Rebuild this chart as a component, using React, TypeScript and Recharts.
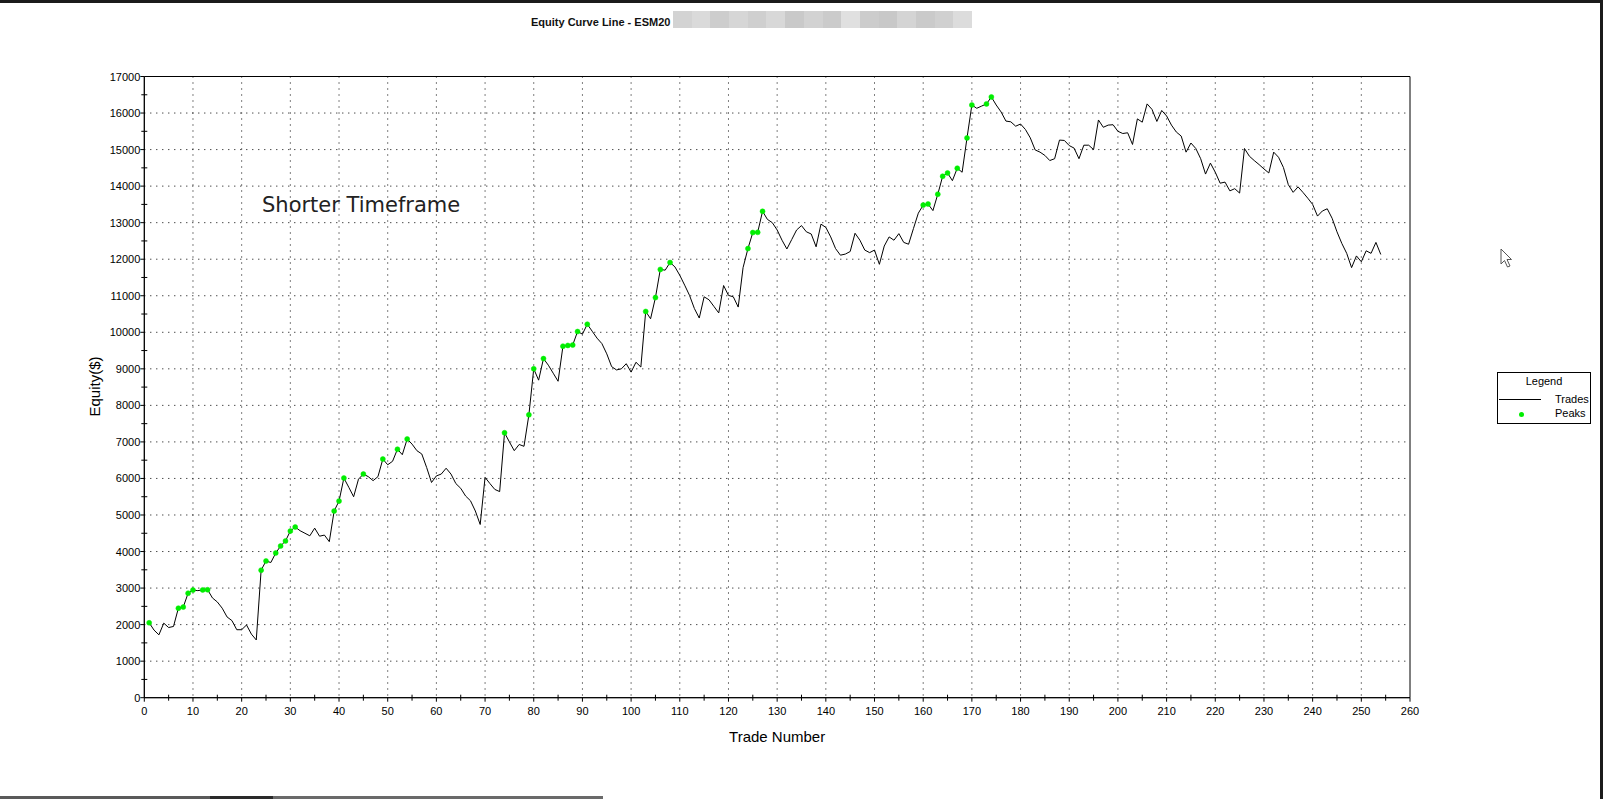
import {
  LineChart,
  Line,
  XAxis,
  YAxis,
  CartesianGrid,
  Legend,
  ReferenceArea,
} from "recharts";

// equity after each trade (trade 1..254)
const equity = [
  2050, 1850, 1720, 2040, 1920, 1950, 2450, 2480, 2860, 2945,
  2930, 2950, 2955, 2730, 2620, 2450, 2210, 2110, 1860, 1860,
  1990, 1740, 1580, 3490, 3740, 3700, 3960, 4150, 4290, 4560,
  4670, 4570, 4500, 4430, 4640, 4420, 4450, 4270, 5110, 5380,
  6010, 5760, 5500, 5980, 6120, 6050, 5940, 6050, 6530, 6375,
  6470, 6800, 6650, 7080, 6940, 6760, 6670, 6300, 5890, 6070,
  6120, 6280, 6120, 5860, 5730, 5520, 5390, 5110, 4740, 6030,
  5860, 5700, 5640, 7250, 7000, 6760, 6930, 6880, 7740, 9000,
  8690, 9280, 9100, 8880, 8660, 9620, 9640, 9650, 10020, 9950,
  10220, 10030, 9840, 9690, 9410, 9060, 8970, 9000, 9140, 8910,
  9180, 9050, 10570, 10370, 10950, 11720, 11700, 11910, 11790, 11560,
  11290, 11010, 10650, 10390, 10970, 10890, 10710, 10530, 11280, 11010,
  10970, 10690, 11770, 12290, 12730, 12735, 13310, 13090, 13000, 12800,
  12520, 12280, 12540, 12800, 12920, 12750, 12690, 12340, 12960, 12870,
  12610, 12290, 12110, 12140, 12210, 12710, 12520, 12250, 12180, 12250,
  11860, 12360, 12610, 12520, 12700, 12460, 12410, 12840, 13260, 13480,
  13510, 13330, 13780, 14270, 14360, 14150, 14490, 14380, 15320, 16220,
  16130, 16190, 16250, 16440, 16220, 16030, 15780, 15760, 15640, 15700,
  15550, 15320, 14990, 14930, 14840, 14700, 14750, 15260, 15250, 15110,
  15040, 14750, 15120, 15120, 15000, 15810, 15610, 15670, 15680, 15500,
  15440, 15460, 15140, 15840, 15750, 16250, 16100, 15770, 16070, 15920,
  15670, 15480, 15370, 14930, 15180, 15030, 14750, 14330, 14630, 14380,
  14080, 14110, 13870, 13930, 13810, 15030, 14820, 14700, 14590, 14470,
  14360, 14930, 14790, 14510, 14040, 13830, 13980, 13830, 13670, 13500,
  13180, 13320, 13380, 13120, 12750, 12430, 12160, 11770, 12090, 11930,
  12230, 12160, 12460, 12130,
];

// trades that set a new equity high (green dots)
const peakTrades = [
  1, 7, 8, 9, 10, 12, 13, 24, 25, 27, 28, 29, 30, 31, 39, 40, 41, 45, 49, 52,
  54, 74, 79, 80, 82, 86, 87, 88, 89, 91, 103, 105, 106, 108, 124, 125, 126,
  127, 160, 161, 163, 164, 165, 167, 169, 170, 173, 174,
];

const xTicks = Array.from({ length: 53 }, (_, i) => i * 5); // 0..260, labels every 10
const yTicks = Array.from({ length: 35 }, (_, i) => i * 500); // 0..17000, labels every 1000
const xGrid = Array.from({ length: 25 }, (_, i) => (i + 1) * 10);
const yGrid = Array.from({ length: 16 }, (_, i) => (i + 1) * 1000);

const titleBlur = [
  "#d3d3d3", "#dadada", "#cdcdcd", "#d6d6d6", "#cfcfcf", "#d8d8d8",
  "#c9c9c9", "#d2d2d2", "#cbcbcb", "#e0e0e0", "#cccccc", "#c8c8c8",
  "#d4d4d4", "#cacaca", "#d0d0d0", "#dcdcdc",
];

const data = equity.map((v, i) => ({
  trade: i + 1,
  equity: v,
  peak: peakTrades.includes(i + 1) ? v : null,
}));

const W = 1603;
const H = 799;
const PLOT_L = 144.3;
const PLOT_R = 1410;
const PLOT_T = 76.5;
const PLOT_B = 697.7;
const FONT = "'Liberation Sans', Arial, sans-serif";
const GREEN = "#00ee00";

function YTick({ x, y, payload }: any) {
  const major = payload.value % 1000 === 0;
  if (!major) {
    return <line x1={x - 3} x2={x + 3} y1={y} y2={y} stroke="#000" />;
  }
  return (
    <g>
      <line x1={x - 4} x2={x} y1={y} y2={y} stroke="#000" />
      <text x={x - 4} y={y + 4} textAnchor="end" fontSize={11} fontFamily={FONT} fill="#000">
        {payload.value}
      </text>
    </g>
  );
}

function XTick({ x, y, payload }: any) {
  const major = payload.value % 10 === 0;
  if (!major) {
    return <line x1={x} x2={x} y1={y - 3} y2={y + 3} stroke="#000" />;
  }
  return (
    <g>
      <line x1={x} x2={x} y1={y} y2={y + 4} stroke="#000" />
      <text x={x} y={y + 17} textAnchor="middle" fontSize={11} fontFamily={FONT} fill="#000">
        {payload.value}
      </text>
    </g>
  );
}

function LegendBox() {
  return (
    <div
      style={{
        width: 92,
        height: 50,
        border: "1px solid #000",
        background: "#fff",
        fontFamily: FONT,
        fontSize: 11,
        position: "relative",
        color: "#000",
      }}
    >
      <div style={{ position: "absolute", top: 2, left: 0, width: 92, textAlign: "center" }}>Legend</div>
      <div style={{ position: "absolute", top: 26, left: 1, width: 42, height: 1, background: "#000" }} />
      <div style={{ position: "absolute", top: 20, left: 57 }}>Trades</div>
      <div
        style={{
          position: "absolute",
          top: 39,
          left: 21,
          width: 5,
          height: 5,
          borderRadius: "50%",
          background: GREEN,
        }}
      />
      <div style={{ position: "absolute", top: 34, left: 57 }}>Peaks</div>
    </div>
  );
}

export default function App() {
  return (
    <div
      style={{
        position: "absolute",
        left: 0,
        top: 0,
        width: W,
        height: H,
        background: "#fff",
        overflow: "hidden",
        fontFamily: FONT,
      }}
    >
      {/* window frame bits */}
      <div style={{ position: "absolute", left: 0, top: 0, width: W, height: 3, background: "#1b1b1b" }} />
      <div style={{ position: "absolute", left: W - 3, top: 0, width: 3, height: H, background: "#1b1b1b" }} />
      <div style={{ position: "absolute", left: 0, top: H - 3, width: 210, height: 3, background: "#5a5a5a" }} />
      <div style={{ position: "absolute", left: 210, top: H - 3, width: 63, height: 3, background: "#2a2a2a" }} />
      <div style={{ position: "absolute", left: 273, top: H - 3, width: 330, height: 3, background: "#6a6a6a" }} />

      {/* title */}
      <div
        style={{
          position: "absolute",
          left: 531,
          top: 16,
          fontSize: 11,
          fontWeight: "bold",
          color: "#111",
          whiteSpace: "nowrap",
        }}
      >
        Equity Curve Line - ESM20
      </div>
      <div style={{ position: "absolute", left: 673, top: 11, height: 17, display: "flex" }}>
        {titleBlur.map((c, i) => (
          <div key={i} style={{ width: 18.7, height: 17, background: c }} />
        ))}
      </div>

      <LineChart
        width={W}
        height={H}
        data={data}
        margin={{ top: PLOT_T, right: W - PLOT_R, bottom: H - PLOT_B - 30, left: PLOT_L - 60 }}
      >
        <CartesianGrid
          stroke="#000"
          strokeDasharray="1 5"
          horizontalValues={yGrid}
          verticalValues={xGrid}
        />
        <XAxis
          dataKey="trade"
          type="number"
          domain={[0, 260]}
          ticks={xTicks}
          interval={0}
          height={30}
          axisLine={{ stroke: "#000" }}
          tickLine={false}
          tickSize={0}
          tickMargin={0}
          tick={<XTick />}
        />
        <YAxis
          type="number"
          domain={[0, 17000]}
          ticks={yTicks}
          interval={0}
          width={60}
          axisLine={{ stroke: "#000" }}
          tickLine={false}
          tickSize={0}
          tickMargin={0}
          tick={<YTick />}
        />
        <ReferenceArea
          x1={0}
          x2={260}
          y1={0}
          y2={17000}
          fill="none"
          stroke="#000"
          strokeWidth={1}
          ifOverflow="visible"
        />
        <Line
          type="linear"
          dataKey="equity"
          name="Trades"
          stroke="#000"
          strokeWidth={1}
          dot={false}
          activeDot={false}
          isAnimationActive={false}
        />
        <Line
          type="linear"
          dataKey="peak"
          name="Peaks"
          stroke="none"
          dot={{ r: 2.5, fill: GREEN, stroke: GREEN, strokeWidth: 0.5 }}
          activeDot={false}
          isAnimationActive={false}
        />
        <Legend
          layout="vertical"
          align="center"
          verticalAlign="middle"
          content={<LegendBox />}
          wrapperStyle={{ left: 1497, top: 372, width: 94, height: 52 }}
        />
      </LineChart>

      {/* axis titles and annotation */}
      <div
        style={{
          position: "absolute",
          left: (PLOT_L + PLOT_R) / 2 - 100,
          width: 200,
          top: 728,
          textAlign: "center",
          fontSize: 15,
          color: "#000",
        }}
      >
        Trade Number
      </div>
      <div
        style={{
          position: "absolute",
          left: 94 - 50,
          top: (PLOT_T + PLOT_B) / 2 - 9,
          width: 100,
          textAlign: "center",
          fontSize: 15,
          color: "#000",
          transform: "rotate(-90deg)",
        }}
      >
        Equity($)
      </div>
      <div
        style={{
          position: "absolute",
          left: 262,
          top: 193,
          fontSize: 21,
          fontFamily: "'DejaVu Sans', Verdana, sans-serif",
          color: "#222",
          whiteSpace: "nowrap",
        }}
      >
        Shorter Timeframe
      </div>

      {/* mouse pointer left in the screenshot */}
      <svg style={{ position: "absolute", left: 1500, top: 248 }} width={14} height={22}>
        <polygon
          points="1,1 1,16 4.5,12.5 7.5,19 10,18 7,11.5 11.5,11.5"
          fill="#fff"
          stroke="#555"
          strokeWidth={1}
        />
      </svg>
    </div>
  );
}
